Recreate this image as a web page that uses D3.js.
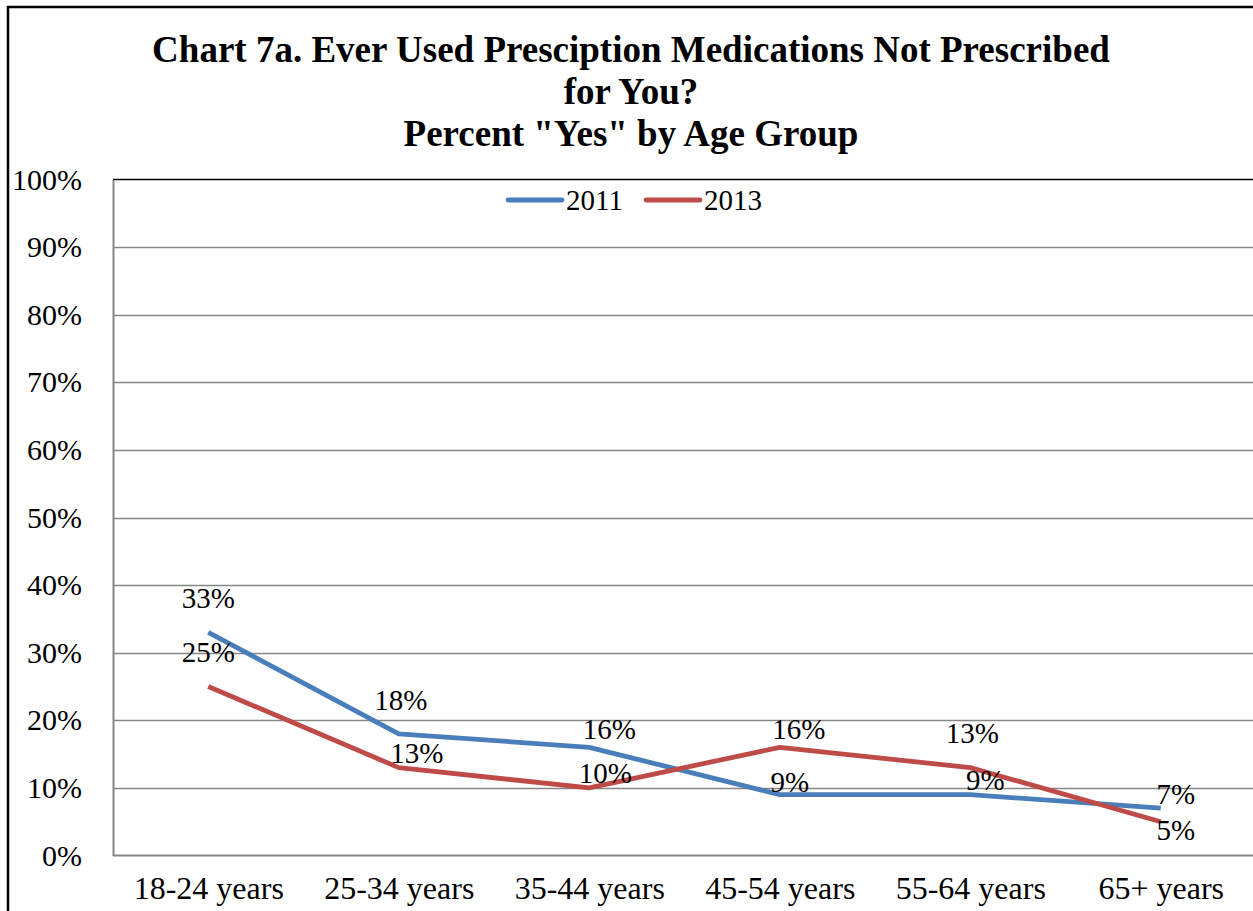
<!DOCTYPE html>
<html>
<head>
<meta charset="utf-8">
<script src="https://cdn.jsdelivr.net/npm/d3@7"></script>
<style>
  body { margin: 0; background: #fff; }
  svg text { font-family: "Liberation Serif", "Times New Roman", Times, Tinos, "DejaVu Serif", serif !important; }
</style>
</head>
<body>
<div id="chart"></div>
<script>
// data
var categories = ["18-24 years", "25-34 years", "35-44 years", "45-54 years", "55-64 years", "65+ years"];
var years = ["2011", "2013"];
var values2011 = [33, 18, 16, 9, 9, 7];
var values2013 = [25, 13, 10, 16, 13, 5];
var yTicks = [0, 10, 20, 30, 40, 50, 60, 70, 80, 90, 100];
var titleLines = ["Chart 7a. Ever Used Presciption Medications Not Prescribed", "for You?", "Percent \"Yes\" by Age Group"];

// label nudges (Excel moved some labels to avoid overlaps)
var labelShift = {
    "2011": {dx: [0, 2, 20, 10, 15, 15], dy: [-35, -34, -18, -13, -15, -14]},
    "2013": {dx: [0, 18, 16, 19, 2, 15], dy: [-35, -15, -15, -18, -35, 8]}
};

var colors = {"2011": "#4A7EBB", "2013": "#BE4B48"};

var width = 1253, height = 911;
var plot = {left: 113, right: 1256, top: 179.5, bottom: 855.5};

var svg = d3.select("#chart")
    .append("svg")
    .attr("width", width)
    .attr("height", height);

// outer frame
svg.append("rect")
    .attr("x", 8)
    .attr("y", 7)
    .attr("width", width + 20)
    .attr("height", height + 20)
    .attr("fill", "none")
    .attr("stroke", "#000")
    .attr("stroke-width", 2.5);

// title
svg.append("g").selectAll("text")
    .data(titleLines)
    .enter()
    .append("text")
    .attr("x", 631)
    .attr("y", function(d, i) { return 62 + i * 42; })
    .attr("text-anchor", "middle")
    .attr("font-weight", "bold")
    .attr("font-size", 37)
    .attr("fill", "#000")
    .text(function(d) { return d; });

// scales
var x = d3.scalePoint()
    .domain(categories)
    .range([plot.left, plot.right])
    .padding(0.5);

var y = d3.scaleLinear()
    .domain([0, 100])
    .range([plot.bottom, plot.top]);

// gridlines
svg.append("g").selectAll("line")
    .data(yTicks.filter(function(d) { return d > 0 && d < 100; }))
    .enter()
    .append("line")
    .attr("x1", plot.left)
    .attr("x2", width)
    .attr("y1", function(d) { return Math.round(y(d)) + 0.5; })
    .attr("y2", function(d) { return Math.round(y(d)) + 0.5; })
    .attr("stroke", "#868686")
    .attr("stroke-width", 1.5);

// plot top edge
svg.append("line")
    .attr("x1", plot.left)
    .attr("x2", width)
    .attr("y1", y(100))
    .attr("y2", y(100))
    .attr("stroke", "#000")
    .attr("stroke-width", 1.5);

// y axis
var yAxis = svg.append("g")
    .attr("transform", "translate(" + plot.left + ",0)")
    .call(d3.axisLeft(y).tickValues(yTicks).tickSize(0).tickPadding(31)
        .tickFormat(function(d) { return d + "%"; }));
yAxis.select(".domain").attr("stroke", "#868686").attr("stroke-width", 2);
yAxis.selectAll("text")
    .attr("font-size", 30)
    .attr("fill", "#000");

// x axis
var xAxis = svg.append("g")
    .attr("transform", "translate(0," + plot.bottom + ")")
    .call(d3.axisBottom(x).tickSize(0).tickPadding(21));
xAxis.select(".domain").attr("d", "M" + plot.left + ",0H" + width)
    .attr("stroke", "#868686").attr("stroke-width", 2);
xAxis.selectAll("text")
    .attr("font-size", 32)
    .attr("fill", "#000");

// lines
var series = [
    {year: "2011", values: values2011},
    {year: "2013", values: values2013}
];

var lineGenerator = d3.line()
    .x(function(d, i) { return x(categories[i]); })
    .y(function(d) { return y(d); });

svg.append("g").selectAll("path")
    .data(series)
    .enter()
    .append("path")
    .attr("d", function(d) { return lineGenerator(d.values); })
    .attr("fill", "none")
    .attr("stroke", function(d) { return colors[d.year]; })
    .attr("stroke-width", 4.8)
    .attr("stroke-linejoin", "round");

// data labels
series.forEach(function(s) {
    svg.append("g").selectAll("text")
        .data(s.values)
        .enter()
        .append("text")
        .attr("x", function(d, i) { return x(categories[i]) + labelShift[s.year].dx[i]; })
        .attr("y", function(d, i) { return y(d) + labelShift[s.year].dy[i]; })
        .attr("dy", "0.35em")
        .attr("text-anchor", "middle")
        .attr("font-size", 29)
        .attr("fill", "#000")
        .text(function(d) { return d + "%"; });
});

// legend
var legend = svg.append("g").selectAll("g")
    .data(years)
    .enter()
    .append("g")
    .attr("transform", function(d, i) { return "translate(" + (508 + i * 138) + ",200)"; });

legend.append("line")
    .attr("x1", 0)
    .attr("x2", 54)
    .attr("stroke", function(d) { return colors[d]; })
    .attr("stroke-width", 4.8)
    .attr("stroke-linecap", "round");

legend.append("text")
    .attr("x", 58)
    .attr("dy", "0.35em")
    .attr("font-size", 29)
    .attr("fill", "#000")
    .text(function(d) { return d; });
</script>
</body>
</html>
